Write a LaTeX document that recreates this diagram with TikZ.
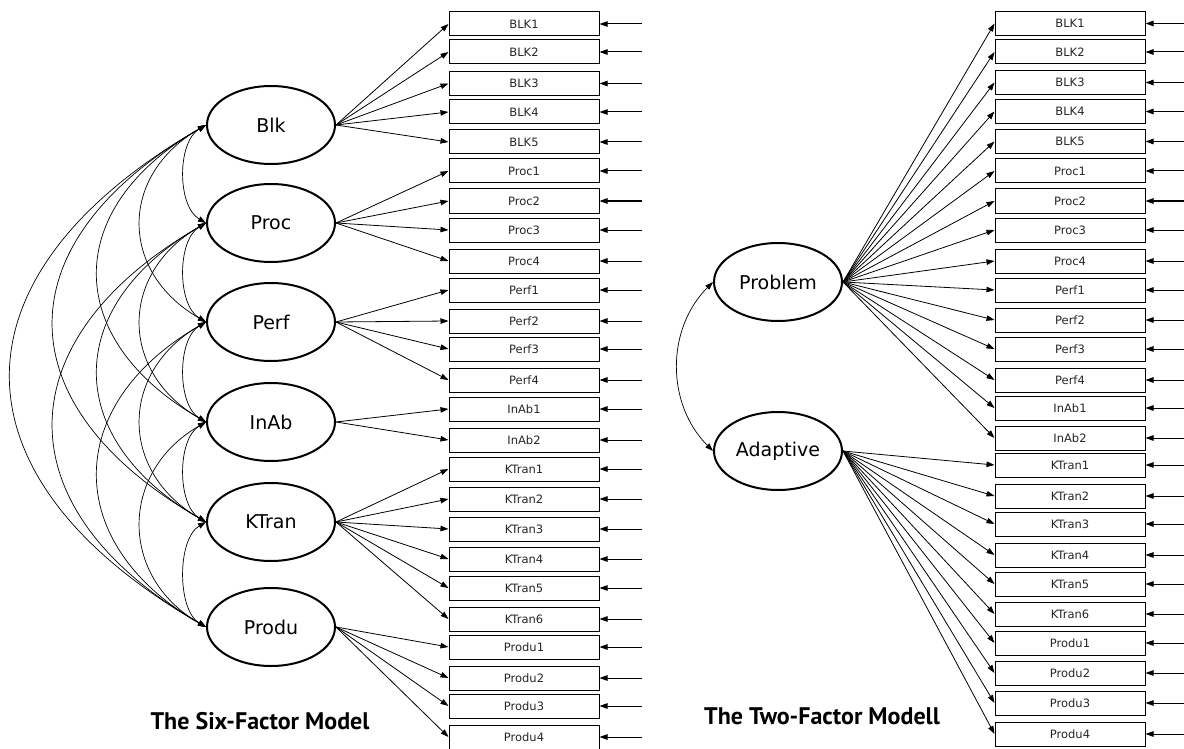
\documentclass[tikz,border=0pt]{standalone}
\usepackage{fontspec}
\setmainfont{DejaVu Sans}
\newfontfamily\titlefont{PT Sans}
\usetikzlibrary{shapes.geometric,arrows.meta}
\begin{document}
\begin{tikzpicture}[x=1pt,y=-1pt,
  >={Triangle[length=8pt,width=5.5pt]},
  factor/.style={ellipse,draw,line width=2pt,minimum width=128pt,minimum height=78pt,inner sep=0pt,font=\fontsize{19}{22}\selectfont},
  item/.style={rectangle,draw,line width=1pt,minimum width=150pt,minimum height=24pt,inner sep=0pt,font=\fontsize{11.5}{13}\selectfont,text=black!85},
  load/.style={->,line width=0.8pt},
  err/.style={->,line width=1pt},
  cov/.style={<->,line width=0.7pt},
  mtitle/.style={font=\titlefont\bfseries\fontsize{24}{28}\selectfont}
]
\useasboundingbox[fill=white] (0,0) rectangle (1184,749);

% ---------- left: six-factor model ----------
\foreach \n/\y in {BLK1/24,BLK2/52,BLK3/83.5,BLK4/112,BLK5/142,Proc1/171,Proc2/201,Proc3/230,Proc4/261,Perf1/290,Perf2/321,Perf3/349,Perf4/380,InAb1/409,InAb2/440,KTran1/469,KTran2/499,KTran3/529,KTran4/559,KTran5/588,KTran6/619,Produ1/647,Produ2/678,Produ3/706,Produ4/737}{
  \node[item] (L\n) at (524,\y) {\n};
  \coordinate (LE\n) at (642,\y);
  \draw[err] (LE\n) -- (L\n.east);
}
\node[factor] (LBlk) at (271,125) {Blk};
\node[factor] (LProc) at (271,223) {Proc};
\node[factor] (LPerf) at (271,322) {Perf};
\node[factor] (LInAb) at (271,422) {InAb};
\node[factor] (LKTran) at (271,522) {KTran};
\node[factor] (LProdu) at (271,627) {Produ};

\foreach \i in {BLK1,BLK2,BLK3,BLK4,BLK5}{\draw[load] (LBlk.east) -- (L\i.west);}
\foreach \i in {Proc1,Proc2,Proc3,Proc4}{\draw[load] (LProc.east) -- (L\i.west);}
\foreach \i in {Perf1,Perf2,Perf3,Perf4}{\draw[load] (LPerf.east) -- (L\i.west);}
\foreach \i in {InAb1,InAb2}{\draw[load] (LInAb.east) -- (L\i.west);}
\foreach \i in {KTran1,KTran2,KTran3,KTran4,KTran5,KTran6}{\draw[load] (LKTran.east) -- (L\i.west);}
\foreach \i in {Produ1,Produ2,Produ3,Produ4}{\draw[load] (LProdu.east) -- (L\i.west);}

% covariances
\foreach \a/\b in {Blk/Proc,Proc/Perf,Perf/InAb,InAb/KTran,KTran/Produ}{
  \draw[cov] (L\a.west) .. controls +(-29,17) and +(-29,-17) .. (L\b.west);}
\foreach \a/\b in {Blk/Perf,Proc/InAb,Perf/KTran,InAb/Produ}{
  \draw[cov] (L\a.west) .. controls +(-87,50) and +(-87,-50) .. (L\b.west);}
\foreach \a/\b in {Blk/InAb,Proc/KTran,Perf/Produ}{
  \draw[cov] (L\a.west) .. controls +(-144,83) and +(-144,-83) .. (L\b.west);}
\foreach \a/\b in {Blk/KTran,Proc/Produ}{
  \draw[cov] (L\a.west) .. controls +(-203,117) and +(-203,-117) .. (L\b.west);}
\draw[cov] (LBlk.west) .. controls +(-260,150) and +(-260,-150) .. (LProdu.west);

\node[mtitle] (T1) at (260,721) {The Six-Factor Model};

% ---------- right: two-factor model ----------
\foreach \n/\y in {BLK1/23.5,BLK2/52,BLK3/82.5,BLK4/111.5,BLK5/141.5,Proc1/171,Proc2/201,Proc3/230,Proc4/261,Perf1/290,Perf2/320,Perf3/349,Perf4/380,InAb1/408,InAb2/438,KTran1/465,KTran2/496,KTran3/524,KTran4/555,KTran5/584,KTran6/614,Produ1/643,Produ2/673,Produ3/703,Produ4/734}{
  \node[item] (R\n) at (1070,\y) {\n};
  \coordinate (RE\n) at (1184,\y);
  \draw[err] (RE\n) -- (R\n.east);
}
\node[factor] (RProblem) at (778,282) {Problem};
\node[factor] (RAdaptive) at (778,451) {Adaptive};
\foreach \i in {BLK1,BLK2,BLK3,BLK4,BLK5,Proc1,Proc2,Proc3,Proc4,Perf1,Perf2,Perf3,Perf4,InAb1,InAb2}{\draw[load] (RProblem.east) -- (R\i.west);}
\foreach \i in {KTran1,KTran2,KTran3,KTran4,KTran5,KTran6,Produ1,Produ2,Produ3,Produ4}{\draw[load] (RAdaptive.east) -- (R\i.west);}
\draw[cov] (RProblem.west) .. controls +(-47,47) and +(-47,-47) .. (RAdaptive.west);

\node[mtitle] (T2) at (822,716) {The Two-Factor Modell};
\end{tikzpicture}
\end{document}
